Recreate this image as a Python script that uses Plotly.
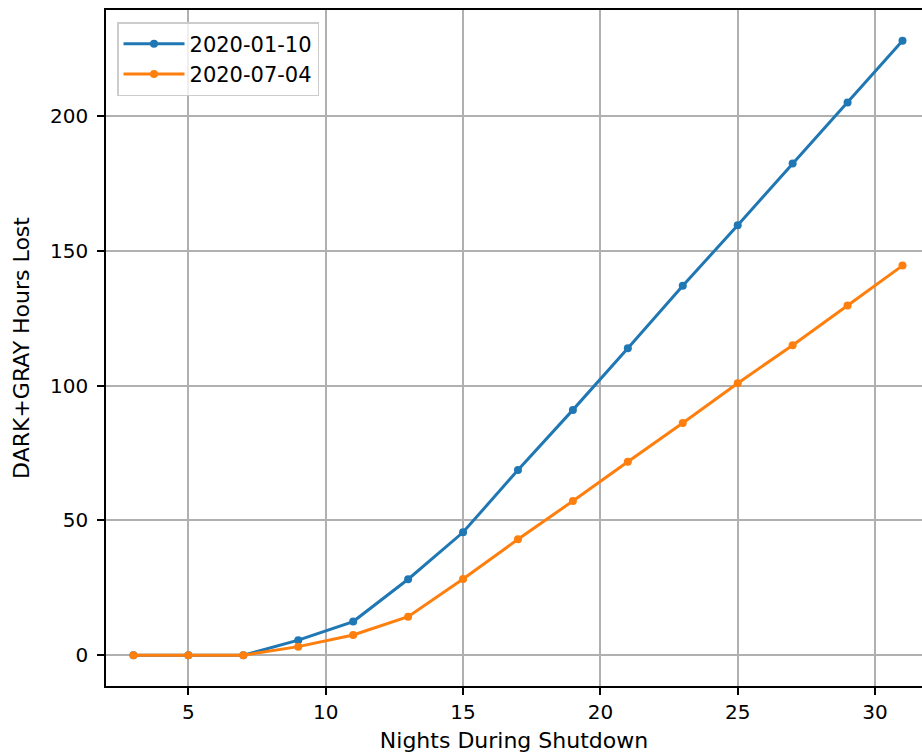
import plotly.graph_objects as go

nights = [3, 5, 7, 9, 11, 13, 15, 17, 19, 21, 23, 25, 27, 29, 31]
lost_0110 = [0, 0, 0, 5.6, 12.5, 28.2, 45.6, 68.7, 91.0, 113.9, 137.0, 159.5, 182.4, 205.0, 227.9]
lost_0704 = [0, 0, 0, 3.2, 7.5, 14.3, 28.3, 43.0, 57.2, 71.8, 86.1, 100.9, 115.0, 129.7, 144.5]
series_names = ["2020-01-10", "2020-07-04"]
series_colors = ["#1f77b4", "#ff7f0e"]
x_ticks = [5, 10, 15, 20, 25, 30]
y_ticks = [0, 50, 100, 150, 200]

fig = go.Figure()
for name, vals, col in zip(series_names, [lost_0110, lost_0704], series_colors):
    fig.add_trace(go.Scatter(
        x=nights, y=vals, name=name, mode="lines+markers",
        line=dict(color=col, width=3),
        marker=dict(color=col, size=8),
    ))

tick_font = dict(family="DejaVu Sans", size=20, color="black")
title_font = dict(family="DejaVu Sans", size=22, color="black")
fig.update_layout(
    width=922, height=755,
    margin=dict(l=106, r=0, t=10, b=69),
    paper_bgcolor="white", plot_bgcolor="white",
    font=tick_font,
    showlegend=True,
    legend=dict(
        x=0.0135, y=0.982, xanchor="left", yanchor="top",
        bgcolor="rgba(255,255,255,0.8)", bordercolor="#cccccc", borderwidth=1.5,
        font=dict(family="DejaVu Sans", size=21, color="black"),
        tracegroupgap=0, itemwidth=61,
    ),
    xaxis=dict(
        range=[2.0, 31.71], tickvals=x_ticks, ticktext=[str(t) for t in x_ticks],
        showgrid=True, gridcolor="#b0b0b0", gridwidth=1.6,
        showline=True, linecolor="black", linewidth=1.6, mirror=True,
        ticks="outside", ticklen=7, tickwidth=1.6, tickcolor="black",
        zeroline=False,
        title=dict(text="Nights During Shutdown", font=title_font, standoff=10),
        tickfont=tick_font,
    ),
    yaxis=dict(
        range=[-11.4, 239.3], tickvals=y_ticks, ticktext=[str(t) for t in y_ticks],
        showgrid=True, gridcolor="#b0b0b0", gridwidth=1.6,
        showline=True, linecolor="black", linewidth=1.6, mirror=False,
        ticks="outside", ticklen=7, tickwidth=1.6, tickcolor="black",
        zeroline=False, ticklabelstandoff=5,
        title=dict(text="DARK+GRAY Hours Lost", font=title_font, standoff=14),
        tickfont=tick_font,
    ),
)

fig.write_html("out.html")
